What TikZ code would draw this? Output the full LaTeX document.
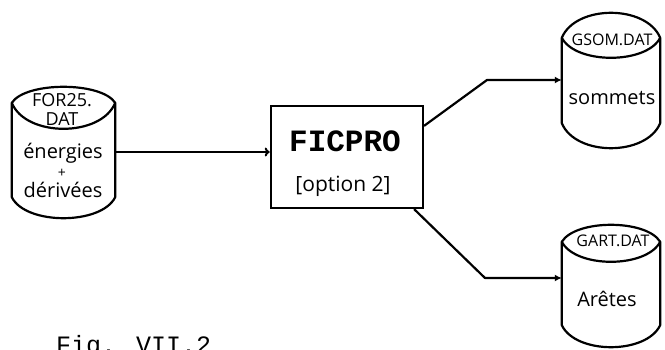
\documentclass[tikz,border=0pt]{standalone}
\usepackage{fontspec}
\setmainfont{Liberation Serif}
\newfontfamily\typew{Liberation Mono}
\newfontfamily\hand{Open Sans}
\usetikzlibrary{calc,arrows.meta}
\tikzset{
  ink/.style={line width=2.2pt, line join=round, line cap=round},
  body/.style={inner sep=0pt, draw=none},
  procbox/.style={draw, line width=2.6pt, inner sep=0pt, minimum width=152pt, minimum height=102pt},
  arr/.style={ink, -{Latex[length=7pt,width=7pt]}},
  arrto/.style={ink, -{To[length=5pt,width=9pt,line width=2pt]}},
  handlbl/.style={inner sep=0pt, font=\hand\fontsize{18}{20}\selectfont},
  handbig/.style={inner sep=0pt, font=\hand\fontsize{20}{22}\selectfont},
  handsm/.style={inner sep=0pt, font=\hand\fontsize{16}{18}\selectfont},
}
\newcommand\dbcyl[4]{%
  \draw[ink] (#1.north west)
    .. controls ($(#1.north west)+(14,-4/3*#2)$) and ($(#1.north east)+(-14,-4/3*#2)$) .. (#1.north east)
    .. controls ($(#1.north east)+(-14,4/3*#3)$) and ($(#1.north west)+(14,4/3*#3)$) .. (#1.north west)
    -- (#1.south west)
    .. controls ($(#1.south west)+(14,4/3*#4)$) and ($(#1.south east)+(-14,4/3*#4)$) .. (#1.south east)
    -- (#1.north east);
}
\begin{document}
\begin{tikzpicture}[x=1pt,y=-1pt]
\useasboundingbox (0,0) rectangle (665,350);
\clip (0,0) rectangle (665,350);
% cylinder bodies
\node[body, minimum width=103pt, minimum height=94pt] (lin) at (63.5,150) {};
\node[body, minimum width=98pt, minimum height=85pt] (tr) at (611,80.5) {};
\node[body, minimum width=98pt, minimum height=83pt] (br) at (611,283.5) {};
\dbcyl{lin}{16}{26}{21}
\dbcyl{tr}{25}{20}{25}
\dbcyl{br}{17}{20}{22}
% process box
\node[procbox] (box) at (347,157) {};
\node[inner sep=0pt, font=\typew\bfseries\fontsize{31}{33}\selectfont] (boxtitle) at (345,141) {FICPRO};
\node[inner sep=0pt, font=\hand\fontsize{21}{23}\selectfont] (boxopt) at (343,186) {[option 2]};
% labels left cylinder
\node[handlbl] (l1) at (62,100) {FOR25.};
\node[handlbl] (l2) at (62,119) {DAT};
\node[handbig] (l3) at (63,153) {énergies};
\node[inner sep=0pt, font=\hand\fontsize{14}{15}\selectfont] (l4) at (62,173) {+};
\node[handbig] (l5) at (63,190) {dérivées};
% labels right cylinders
\node[handsm] (t1) at (612,40) {GSOM.DAT};
\node[handbig] (t2) at (612,98) {sommets};
\node[handsm] (b1) at (613,241) {GART.DAT};
\node[handbig] (b2) at (607,299) {Arêtes};
% connectors
\coordinate (la) at ($(lin.east)+(0,2)$);
\coordinate (k1) at (487,80);
\coordinate (k2) at (485,278);
\draw[arrto] (la) -- (la -| box.west);
\draw[arr] ($(box.north east)+(0,21)$) -- (k1) -- (k1 -| tr.west);
\draw[arr] ($(box.south east)+(-10,0)$) -- (k2) -- (k2 -| br.west);
% caption
\node[anchor=base west, inner sep=0pt, font=\typew\fontsize{25}{27}\selectfont] (cap) at (56,353) {Fig. VII.2};
\end{tikzpicture}
\end{document}
